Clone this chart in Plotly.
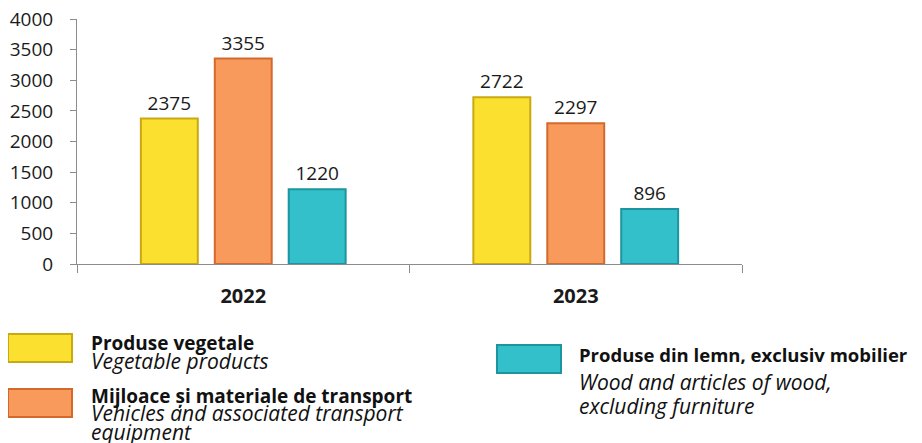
import plotly.graph_objects as go

# Data
years = ["2022", "2023"]
veg_products = [2375, 2722]
transport = [3355, 2297]
wood = [1220, 896]

series_ro = ["Produse vegetale", "Mijloace și materiale de transport",
             "Produse din lemn, exclusiv mobilier"]
series_en = [["Vegetable products"],
             ["Vehicles and associated transport", "equipment"],
             ["Wood and articles of wood,", "excluding furniture"]]
fills = ["#FCE02F", "#F79A5C", "#33C0CB"]
borders = ["#C9A912", "#D5692C", "#1D959F"]

FONT = "Open Sans"
W, H = 922, 443
OFF = 8  # the page puts the figure 8px in from the top-left corner
L, T = 77 - OFF, 19 - OFF
plot_w, plot_h = 665, 245
R, B = W - L - plot_w, H - T - plot_h


# helpers: page pixel -> paper fraction
def px(x):
    return (x - OFF - L) / plot_w


def py(y):
    return (T + plot_h - (y - OFF)) / plot_h


fig = go.Figure()
for name, vals, fc, bc in zip(series_ro, [veg_products, transport, wood], fills, borders):
    fig.add_trace(go.Bar(
        x=years, y=vals, name=name,
        marker=dict(color=fc, line=dict(color=bc, width=2)),
        text=vals, textposition="outside",
        textfont=dict(family=FONT, size=19, color="#1a1a1a"),
        cliponaxis=False,
    ))

# legend drawn by hand: swatch + bold Romanian line + italic English lines
legend_pos = [(8, 334, 89, [343, 361]), (8, 389, 89, [396, 413, 432]),
              (497, 345, 577, [354, 382, 406])]
bold_sizes = [19, 19, 18.5]
shapes = []
annotations = []
for i, (sx, sy, tx, lines_y) in enumerate(legend_pos):
    shapes.append(dict(type="rect", xref="paper", yref="paper",
                       x0=px(sx), x1=px(sx + 64), y0=py(sy), y1=py(sy + 28),
                       fillcolor=fills[i], line=dict(color=borders[i], width=2)))
    texts = ["<b>" + series_ro[i] + "</b>"] + ["<i>" + t + "</i>" for t in series_en[i]]
    sizes = [bold_sizes[i]] + [21] * len(series_en[i])
    for t, ly, fs in zip(texts, lines_y, sizes):
        annotations.append(dict(text=t, xref="paper", yref="paper", x=px(tx), y=py(ly),
                                xanchor="left", yanchor="middle", showarrow=False,
                                font=dict(family=FONT, size=fs, color="#111")))

fig.update_layout(
    width=W, height=H,
    margin=dict(l=L, r=R, t=T, b=B, autoexpand=False),
    paper_bgcolor="white", plot_bgcolor="white",
    barmode="group", bargap=0.333, bargroupgap=0.23,
    showlegend=False,
    shapes=shapes, annotations=annotations,
    font=dict(family=FONT, size=19, color="#1a1a1a"),
)
fig.update_xaxes(
    automargin=False,
    showline=True, linecolor="#8c8c8c", linewidth=1,
    ticks="outside", tickson="boundaries", ticklen=8, tickcolor="#8c8c8c",
    tickfont=dict(family=FONT, size=20, color="#1a1a1a", weight="bold"),
    ticklabelstandoff=14,
)
fig.update_yaxes(
    automargin=False,
    range=[0, 4000], dtick=500, showgrid=False, zeroline=False,
    showline=True, linecolor="#8c8c8c", linewidth=1,
    ticks="outside", ticklen=6, tickcolor="#8c8c8c",
    tickfont=dict(family=FONT, size=19, color="#1a1a1a"),
    ticklabelstandoff=13, ticklabeloverflow="allow",
)

fig.write_html("out.html")
